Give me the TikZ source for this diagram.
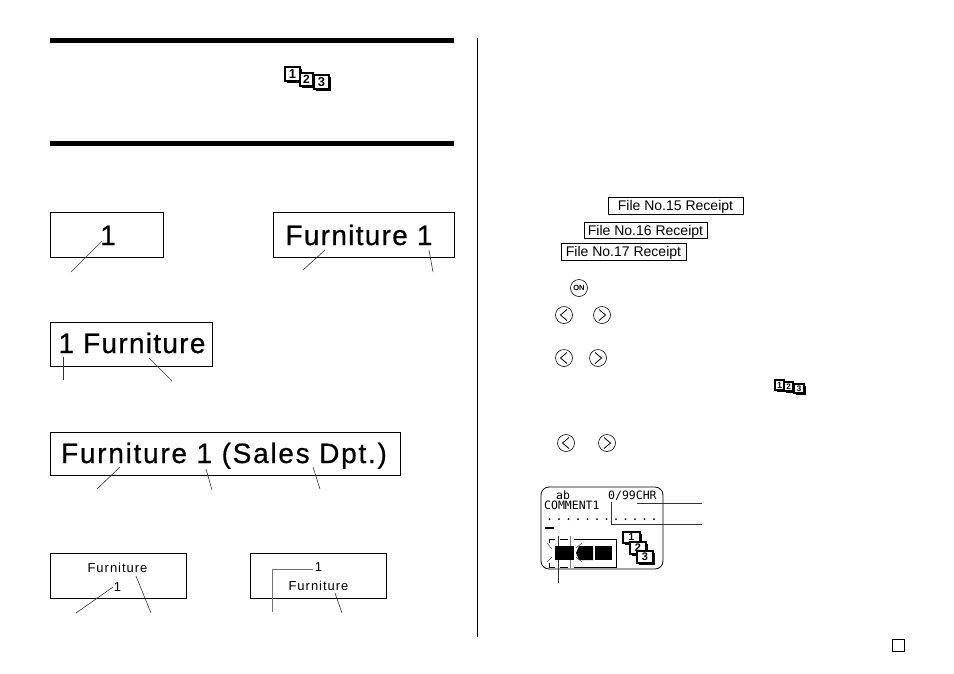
\documentclass[tikz,border=0pt]{standalone}
\usepackage{fontspec}
\setmainfont{Liberation Sans}
\newfontfamily\lcdfont{DejaVu Sans Mono}
\tikzset{
  panel/.style={draw, line width=0.8pt, inner sep=0pt, outer sep=0pt, anchor=north west},
  lead/.style={line width=0.6pt, black!80},
  big/.style={font=\addfontfeature{LetterSpace=#1,FakeBold=0.6}\fontsize{28}{28}\selectfont, inner sep=0pt, anchor=base},
  big/.default=4.6,
  mid/.style={font=\fontsize{14}{14}\selectfont, inner sep=0pt, text height=10pt, text depth=0pt},
  small/.style={font=\addfontfeature{LetterSpace=7.5}\fontsize{13}{13}\selectfont, inner sep=0pt, anchor=base},
  lcd/.style={font=\lcdfont\fontsize{11.5}{11.5}\selectfont, inner sep=0pt},
  keybtn/.style={draw, circle, line width=0.6pt, minimum size=17pt, inner sep=0pt},
  keyl/.style={keybtn, path picture={\draw[line width=0.8pt] ([xshift=3pt,yshift=5.5pt]path picture bounding box.center) -- ([xshift=-3.5pt]path picture bounding box.center) -- ([xshift=3pt,yshift=-5.5pt]path picture bounding box.center);}},
  keyr/.style={keybtn, path picture={\draw[line width=0.8pt] ([xshift=-3pt,yshift=5.5pt]path picture bounding box.center) -- ([xshift=3.5pt]path picture bounding box.center) -- ([xshift=-3pt,yshift=-5.5pt]path picture bounding box.center);}},
  tab/.style={draw, fill=white, line width=1.2pt, inner sep=0pt, outer sep=0pt, anchor=north west},
  tabshade/.style={fill=black, inner sep=0pt, outer sep=0pt, anchor=north west}
}
% panel of given size: name, x, y, width, height
\newcommand{\panelbox}[5]{\node[panel, minimum width=#4pt, minimum height=#5pt] (#1) at (#2,#3) {};}
% numbered tab with a shadow
\newcommand{\tabbox}[6]{%
  \node[tabshade, minimum width=#4pt, minimum height=#5pt] (#1s) at (#2+2,#3+2) {};
  \node[tab, minimum width=#4pt, minimum height=#5pt, font=\bfseries\fontsize{\the\numexpr#5-1\relax}{#5}\selectfont] (#1) at (#2,#3) {#6};}
\begin{document}
\begin{tikzpicture}[x=1pt, y=-1pt]
  \useasboundingbox (0,0) rectangle (954,673);
  % rules
  \fill (50,38) rectangle (454,42.5);
  \fill (50,141) rectangle (454,145.5);
  \coordinate (divtop) at (477.5,38);
  \coordinate (divbot) at (477.5,637);
  \draw[line width=0.8pt] (divtop) -- (divbot);
  \node[panel, minimum size=11.5pt] (pg) at (892.5,639.5) {};

  % header icon
  \tabbox{ha}{285}{67}{15}{14}{1}
  \tabbox{hb}{300}{73}{13}{13}{2}
  \tabbox{hc}{314}{75}{15}{14}{3}

  % left column
  \panelbox{pa}{50.5}{212.5}{113}{45}
  \panelbox{pb}{273.5}{212.5}{181}{45}
  \panelbox{pc}{50.5}{322.5}{162}{44}
  \panelbox{pd}{50.5}{432}{350}{43}
  \panelbox{pe}{50.5}{553.5}{136}{45}
  \panelbox{pf}{250.5}{553.5}{136}{45}

  \node[big] (ta) at (108,245) {1};
  \node[big] (tb) at (359,245) {Furniture 1};
  \node[big] (tc) at (132,353) {1 Furniture};
  \node[big=6.2] (td) at (224,463) {Furniture 1 (Sales Dpt.)};
  \node[small] (te1) at (117.5,572) {Furniture};
  \node[small] (te2) at (117.5,591) {1};
  \node[small] (tf1) at (318.5,571) {1};
  \node[small] (tf2) at (318.5,590) {Furniture};

  % leader ends
  \foreach \n/\xa/\ya/\xb/\yb in {
    a/102/241/71/272, b/325/250/303/270, c/429/250/433/272,
    d/63.5/357/63.5/380, e/149/358/172/381,
    f/120/467/97/489, g/206/469/212/490, h/313/467/320/489,
    i/113/587/76/613, j/136/576/151/613, k/335/593/342/613} {
    \coordinate (s\n) at (\xa,\ya);
    \coordinate (t\n) at (\xb,\yb);
    \draw[lead] (s\n) -- (t\n);
  }
  \coordinate (sl) at (313,569);
  \coordinate (tl) at (272.5,612);
  \draw[lead, black!55, line width=0.8pt] (sl) -| (tl);

  % right column
  \node[draw, line width=0.8pt, mid, minimum width=135pt, minimum height=17pt] (fa) at (675.5,205.5) {File No.15 Receipt};
  \node[draw, line width=0.8pt, mid, minimum width=123pt, minimum height=16pt] (fb) at (645.5,230) {File No.16 Receipt\hspace{4pt}};
  \node[draw, line width=0.8pt, mid, minimum width=125pt, minimum height=17pt] (fc) at (623.5,251.5) {File No.17 Receipt};

  \node[keybtn, font=\bfseries\fontsize{7.5}{7.5}\selectfont] (on) at (579,288) {ON};
  \foreach \n/\xa/\xb/\y in {a/564/602/315, b/564/598/358, c/566/607/443} {
    \node[keyl] (l\n) at (\xa,\y) {};
    \node[keyr] (r\n) at (\xb,\y) {};
  }

  % inline icon
  \tabbox{ma}{775}{380}{9}{10}{1}
  \tabbox{mb}{784}{382}{9}{9}{2}
  \tabbox{mc}{794}{384}{10}{9}{3}

  % lcd screen
  \node[draw, line width=0.8pt, outer sep=0pt, rounded corners=8pt, minimum width=122pt, minimum height=82pt, inner sep=0pt, anchor=north west] (lcd) at (541,487) {};
  \node[lcd] (lab) at (563,495) {ab};
  \node[lcd, anchor=west] (lcom) at (544,505) {COMMENT1};
  \node[lcd, anchor=west] (lchr) at (608,496) {0/99CHR};
  \foreach \i in {0,...,11} {
    \fill (549.5+\i*9.5,519) circle (1pt);
  }
  \fill (545,526.5) rectangle (554,528.5);

  % lcd leaders
  \coordinate (ua) at (637,503);
  \coordinate (ub) at (702,503);
  \coordinate (uc) at (611,502);
  \coordinate (ud) at (702,524);
  \coordinate (ue) at (558,536);
  \coordinate (uf) at (558,583);
  \coordinate (ug) at (570,536);
  \coordinate (uh) at (570,568);
  \draw[lead] (ua) -- (ub);
  \draw[lead] (uc) |- (ud);
  \draw[lead] (ue) -- (uf);
  \draw[lead, black!50] (ug) -- (uh);

  % battery
  \draw[line width=0.8pt] (549,543) |- (555,539.5) (560,539.5) -- (568,539.5) (574,539.5) -- (616,539.5) |- (574,567) (568,567) -- (560,567) (555,567) -| (549,563);
  \fill (555,546) rectangle (574,560);
  \fill (579,546) -- (593,546) -- (593,560) -- (579,560) -- (576,553) -- cycle;
  \fill (595,546) rectangle (612,560);
  \foreach \xa/\ya/\xb/\yb in {547/543/552/549, 547/562/552/557, 582/543/576/548, 582/562/576/557} {
    \draw[line width=0.5pt, black!70] (\xa,\ya) -- (\xb,\yb);
  }

  % lcd tabs
  \tabbox{la}{623}{532}{17}{11}{1}
  \tabbox{lb}{630}{542}{16}{12}{2}
  \tabbox{lc}{637}{551}{16}{12}{3}
\end{tikzpicture}
\end{document}
